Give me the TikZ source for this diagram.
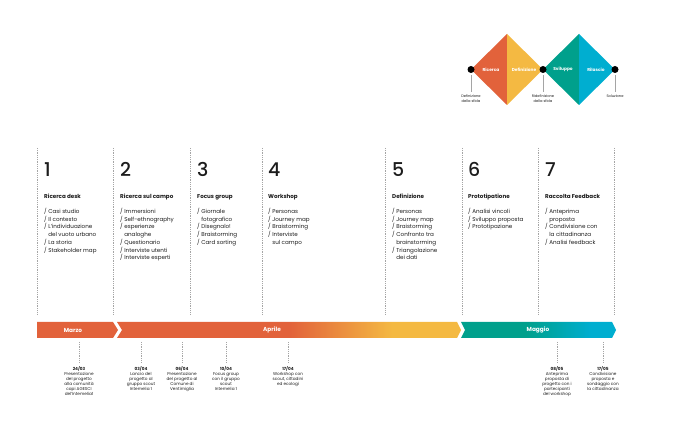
\documentclass[tikz,border=0pt]{standalone}
\usepackage{fontspec}
\setmainfont{Poppins}
\newfontfamily\numfont{Poppins}[UprightFont=* Medium]
\usepackage{xcolor}
\usetikzlibrary{positioning}
\definecolor{phaseorange}{RGB}{226,98,59}
\definecolor{phaseyellow}{RGB}{244,185,66}
\definecolor{phaseteal}{RGB}{0,160,140}
\definecolor{phasecyan}{RGB}{0,174,208}
\definecolor{inkdark}{RGB}{28,28,28}
\definecolor{guidegray}{RGB}{165,165,165}
\pgfdeclarehorizontalshading{aprileshade}{100bp}{color(0bp)=(phaseorange); color(50bp)=(phaseorange); color(65bp)=(phaseyellow); color(100bp)=(phaseyellow)}
\pgfdeclarehorizontalshading{maggioshade}{100bp}{color(0bp)=(phaseteal); color(46bp)=(phaseteal); color(67bp)=(phasecyan); color(100bp)=(phasecyan)}
\newcommand{\contline}{\hphantom{/ }}

\begin{document}
\begin{tikzpicture}[x=1pt,y=-1pt,
    stepnum/.style={anchor=base west,inner sep=0pt,text=inkdark,font=\fontsize{19}{19}\numfont},
    steptitle/.style={anchor=base west,inner sep=0pt,text=inkdark,font=\fontsize{5.6}{7.7}\selectfont\bfseries},
    steplist/.style={anchor=north west,inner sep=0pt,text=inkdark,align=left,font=\fontsize{5.6}{7.7}\selectfont,execute at begin node=\strut},
    guide/.style={draw=guidegray,line width=0.6pt,dash pattern=on 0.6pt off 1.2pt},
    month/.style={inner sep=0pt,text=white,font=\fontsize{5.8}{6}\selectfont\bfseries},
    event/.style={anchor=north,inner sep=0pt,align=center,text=inkdark,font=\fontsize{4.2}{5}\selectfont},
    phasetext/.style={inner sep=0pt,text=white,font=\fontsize{4.3}{5}\selectfont\bfseries},
    milestone/.style={circle,fill=black,inner sep=0pt,minimum size=7pt},
    milelabel/.style={anchor=north,inner sep=0pt,align=center,text=inkdark,font=\fontsize{3.6}{4.8}\selectfont},
    stem/.style={draw=guidegray,line width=0.6pt}
  ]
    \useasboundingbox (0,0) rectangle (675,435);

    % double diamond
    \fill[phaseorange] (471,69.5) -- (507,34) -- (507,105) -- cycle;
    \fill[phaseyellow] (507,34) -- (543,69.5) -- (507,105) -- cycle;
    \fill[phaseteal] (543,69.5) -- (579,34) -- (579,105) -- cycle;
    \fill[phasecyan] (579,34) -- (615,69.5) -- (579,105) -- cycle;
    \node[phasetext] (ricerca) at (491,69.5) {Ricerca};
    \node[phasetext] (definizione) at (524,69.5) {Definizione};
    \node[phasetext] (sviluppo) at (563,69.5) {Sviluppo};
    \node[phasetext] (rilascio) at (596,69.5) {Rilascio};

    \node[milestone] (m1) at (471,69.5) {};
    \node[milestone] (m2) at (543,69.5) {};
    \node[milestone] (m3) at (615,69.5) {};
    \node[milelabel] (ml1) at (471,95) {Definizione\\della sfida};
    \node[milelabel] (ml2) at (543,95) {Ridefinizione\\della sfida};
    \node[milelabel] (ml3) at (615,95) {Soluzione};
    \draw[stem,shorten <=2pt,shorten >=2.5pt] (m1) -- (ml1);
    \draw[stem,shorten <=2pt,shorten >=2.5pt] (m2) -- (ml2);
    \draw[stem,shorten <=2pt,shorten >=2.5pt] (m3) -- (ml3);

    % columns
    \foreach \x in {37,113,190,262,385,462,538,614}
      \draw[guide] (\x,148) -- (\x,314);

    \node[stepnum] (n1) at (44,177) {1};
    \node[steptitle,below=22pt of n1.base west,anchor=base west] (t1) {Ricerca desk};
    \node[steplist,below=9.1pt of t1.base west,anchor=north west] (l1) {/ Casi studio\\/ Il contesto\\/ L'individuazione\\\contline del vuoto urbano\\/ La storia\\/ Stakeholder map};

    \node[stepnum] (n2) at (120,177) {2};
    \node[steptitle,below=22pt of n2.base west,anchor=base west] (t2) {Ricerca sul campo};
    \node[steplist,below=9.1pt of t2.base west,anchor=north west] (l2) {/ Immersioni\\/ Self-ethnography\\/ esperienze\\\contline analoghe\\/ Questionario\\/ Interviste utenti\\/ Interviste esperti};

    \node[stepnum] (n3) at (197,177) {3};
    \node[steptitle,below=22pt of n3.base west,anchor=base west] (t3) {Focus group};
    \node[steplist,below=9.1pt of t3.base west,anchor=north west] (l3) {/ Giornale\\\contline fotografico\\/ Disegnalo!\\/ Braistorming\\/ Card sorting};

    \node[stepnum] (n4) at (268,177) {4};
    \node[steptitle,below=22pt of n4.base west,anchor=base west] (t4) {Workshop};
    \node[steplist,below=9.1pt of t4.base west,anchor=north west] (l4) {/ Personas\\/ Journey map\\/ Braistorming\\/ Interviste\\\contline sul campo};

    \node[stepnum] (n5) at (392,177) {5};
    \node[steptitle,below=22pt of n5.base west,anchor=base west] (t5) {Definizione};
    \node[steplist,below=9.1pt of t5.base west,anchor=north west] (l5) {/ Personas\\/ Journey map\\/ Braistorming\\/ Confronto tra\\\contline brainstorming\\/ Triangolazione\\\contline dei dati};

    \node[stepnum] (n6) at (468,177) {6};
    \node[steptitle,below=22pt of n6.base west,anchor=base west] (t6) {Prototipatione};
    \node[steplist,below=9.1pt of t6.base west,anchor=north west] (l6) {/ Analisi vincoli\\/ Sviluppo proposta\\/ Prototipazione};

    \node[stepnum] (n7) at (545,177) {7};
    \node[steptitle,below=22pt of n7.base west,anchor=base west] (t7) {Raccolta Feedback};
    \node[steplist,below=9.1pt of t7.base west,anchor=north west] (l7) {/ Anteprima\\\contline proposta\\/ Condivisione con\\\contline la cittadinanza\\/ Analisi feedback};

    % timeline
    \fill[phaseorange] (37,322) -- (113,322) -- (118,330) -- (113,338) -- (37,338) -- cycle;
    \shade[shading=aprileshade] (117,322) -- (457,322) -- (461,330) -- (457,338) -- (117,338) -- (122,330) -- cycle;
    \shade[shading=maggioshade] (461,322) -- (612,322) -- (616,330) -- (612,338) -- (461,338) -- (465,330) -- cycle;
    \node[month] (marzo) at (73,330) {Marzo};
    \node[month] (aprile) at (272,330) {Aprile};
    \node[month] (maggio) at (538,330) {Maggio};

    \coordinate (e1top) at (79,342);
    \node[event] (e1) at (79,366) {\textbf{24/03}\\Presentazione\\del progetto\\alla comunità\\capi AGESCI\\del'Intemelia1};
    \draw[guide,shorten >=4pt] (e1top) -- (e1);

    \coordinate (e2top) at (141,342);
    \node[event] (e2) at (141,366) {\textbf{03/04}\\Lancio del\\progetto al\\gruppo scout\\Intemelia 1};
    \draw[guide,shorten >=4pt] (e2top) -- (e2);

    \coordinate (e3top) at (182,342);
    \node[event] (e3) at (182,366) {\textbf{06/04}\\Presentazione\\del progetto al\\Comune di\\Ventimiglia};
    \draw[guide,shorten >=4pt] (e3top) -- (e3);

    \coordinate (e4top) at (226,342);
    \node[event] (e4) at (226,366) {\textbf{10/04}\\Focus group\\con il gruppo\\scout\\Intemelia 1};
    \draw[guide,shorten >=4pt] (e4top) -- (e4);

    \coordinate (e5top) at (288,342);
    \node[event] (e5) at (288,366) {\textbf{17/04}\\Workshop con\\scout, cittadini\\ed ecologi};
    \draw[guide,shorten >=4pt] (e5top) -- (e5);

    \coordinate (e6top) at (557,342);
    \node[event] (e6) at (557,366) {\textbf{08/05}\\Anteprima\\proposta di\\progetto con i\\partecipanti\\del workshop};
    \draw[guide,shorten >=4pt] (e6top) -- (e6);

    \coordinate (e7top) at (603,342);
    \node[event] (e7) at (603,366) {\textbf{17/05}\\Condivisione\\proposta e\\sondaggio con\\la cittadinanza};
    \draw[guide,shorten >=4pt] (e7top) -- (e7);
  \end{tikzpicture}
\end{document}
